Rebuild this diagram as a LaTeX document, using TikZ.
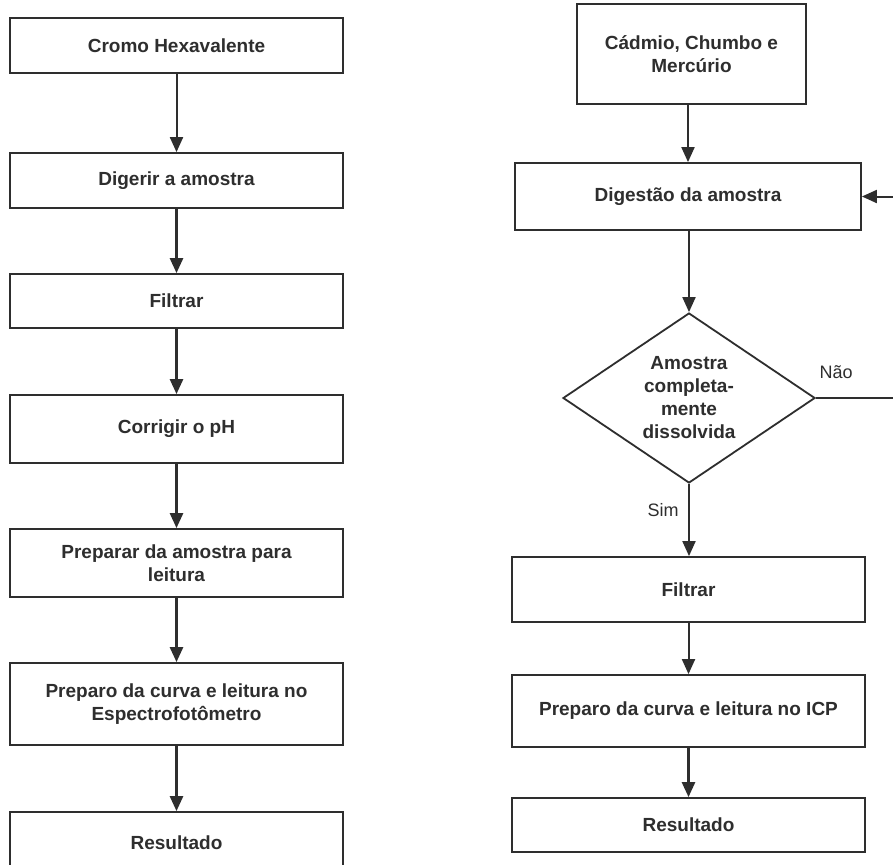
\documentclass[tikz,border=0pt]{standalone}
\usepackage{fontspec}
\setmainfont{Liberation Sans}
\usetikzlibrary{arrows.meta,shapes.geometric}
\definecolor{ink}{HTML}{2E2E2E}
\begin{document}
\begin{tikzpicture}[x=1pt,y=-1pt,
  box/.style={draw=ink, line width=1.8pt, rectangle, inner sep=0pt, align=center, text=ink,
              font=\fontsize{19}{23}\selectfont\bfseries},
  lbox/.style={box, minimum width=333pt},
  rbox/.style={box, minimum width=353pt},
  decision/.style={draw=ink, line width=1.8pt, diamond, aspect=1.48, inner sep=0pt, align=center, text=ink,
              minimum width=252pt, minimum height=170pt, font=\fontsize{19}{23}\selectfont\bfseries},
  flow/.style={draw=ink, line width=2pt, -{Triangle[length=15pt,width=13pt]}},
  thickflow/.style={flow, line width=2.6pt},
  lbl/.style={text=ink, inner sep=0pt, font=\fontsize{18}{22}\selectfont}]
\useasboundingbox (0,0) rectangle (893,864);
\fill[white] (0,0) rectangle (893,864);
\clip (0,0) rectangle (893,864);

% left column
\node[lbox, minimum height=55pt] (l1) at (176.5,45.5) {Cromo Hexavalente};
\node[lbox, minimum height=55pt] (l2) at (176.5,180.5) {Digerir a amostra};
\node[lbox, minimum height=54pt] (l3) at (176.5,301) {Filtrar};
\node[lbox, minimum height=68pt] (l4) at (176.5,429) {Corrigir o pH};
\node[lbox, minimum height=68pt] (l5) at (176.5,563) {Preparar da amostra para\\leitura};
\node[lbox, minimum height=82pt] (l6) at (176.5,704) {Preparo da curva e leitura no\\Espectrofotômetro};
\node[lbox, minimum height=62pt] (l7) at (176.5,843) {Resultado};

\draw[flow] (l1) -- (l2);
\draw[thickflow] (l2) -- (l3);
\draw[thickflow] (l3) -- (l4);
\draw[thickflow] (l4) -- (l5);
\draw[thickflow] (l5) -- (l6);
\draw[thickflow] (l6) -- (l7);

% right column
\node[box, minimum width=229pt, minimum height=100pt] (r1) at (691.5,54) {Cádmio, Chumbo e\\Mercúrio};
\node[box, minimum width=346pt, minimum height=67pt] (r2) at (688,196.5) {Digestão da amostra};
\node[decision] (r3) at (689,398) {Amostra\\completa-\\mente\\dissolvida};
\node[rbox, minimum height=65pt] (r4) at (688.5,589.5) {Filtrar};
\node[rbox, minimum height=72pt] (r5) at (688.5,711) {Preparo da curva e leitura no ICP};
\node[rbox, minimum height=54pt] (r6) at (688.5,825) {Resultado};

\draw[flow] (r1.south -| r2.north) -- (r2.north);
\draw[flow] (r2.south -| r3.north) -- (r3.north);
\draw[flow] (r3.south) -- (r3.south |- r4.north);
\draw[flow] (r4) -- (r5);
\draw[thickflow] (r5) -- (r6);

\coordinate (loopr) at (905,398);
\draw[flow] (r3.east) -- (loopr) |- (r2.east);

\node[lbl] (nao) at (836,372) {Não};
\node[lbl] (sim) at (663,510) {Sim};
\end{tikzpicture}
\end{document}
